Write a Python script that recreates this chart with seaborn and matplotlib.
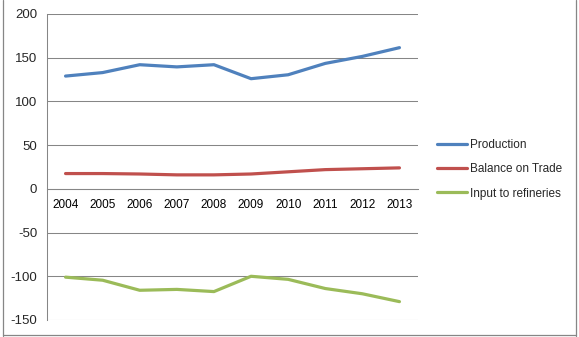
import matplotlib
matplotlib.use("Agg")
import matplotlib.pyplot as plt
import seaborn as sns
import pandas as pd
from matplotlib.ticker import FixedLocator, NullFormatter
from matplotlib.lines import Line2D

years = ["2004", "2005", "2006", "2007", "2008", "2009", "2010", "2011", "2012", "2013"]
production = [129, 133, 142, 139.5, 142, 126, 130.5, 143.5, 151.5, 161.5]
balance_on_trade = [17.5, 17.5, 17, 16, 16, 17, 19.5, 22, 23, 24]
input_to_refineries = [-101, -104.5, -116, -115, -117.5, -100, -103.5, -114, -120, -129]
series_names = ["Production", "Balance on Trade", "Input to refineries"]
colors = ["#4F81BD", "#C0504D", "#9BBB59"]

df = pd.concat([
    pd.DataFrame({"year": years, "value": production, "series": series_names[0]}),
    pd.DataFrame({"year": years, "value": balance_on_trade, "series": series_names[1]}),
    pd.DataFrame({"year": years, "value": input_to_refineries, "series": series_names[2]}),
])

sns.set_style("white")
plt.rcParams["font.family"] = ["Liberation Sans", "DejaVu Sans"]
plt.rcParams["axes.unicode_minus"] = False

fig = plt.figure(figsize=(5.79, 3.37), dpi=100)
ax = fig.add_axes([47 / 579, 1 - 320 / 337, (418 - 47) / 579, (320 - 14) / 337])

sns.lineplot(data=df, x="year", y="value", hue="series", hue_order=series_names,
             palette=colors, linewidth=2.3, ax=ax, sort=False)

grey = "#868686"
ax.set_ylim(-150, 200)
ax.set_yticks(range(-150, 201, 50))
ax.set_xlim(-0.5, 9.5)
ax.yaxis.grid(True, color=grey, linewidth=0.75)
ax.set_axisbelow(True)
ax.spines["top"].set_visible(False)
ax.spines["right"].set_visible(False)
ax.spines["left"].set_color(grey)
ax.spines["left"].set_linewidth(0.75)
ax.spines["bottom"].set_position(("data", 0))
ax.spines["bottom"].set_color(grey)
ax.spines["bottom"].set_linewidth(0.75)

ax.xaxis.set_major_locator(FixedLocator([i - 0.5 for i in range(11)]))
ax.xaxis.set_major_formatter(NullFormatter())
ax.set_xticks(range(10), minor=True)
ax.set_xticklabels(years, minor=True)
ax.tick_params(axis="x", which="major", direction="out", length=5, color=grey, width=0.75)
ax.tick_params(axis="x", which="minor", length=0, pad=7, labelsize=8.5, colors="black")
ax.tick_params(axis="y", direction="out", length=4, color=grey, width=0.75, labelsize=9.5, pad=3)
ax.set_xlabel("")
ax.set_ylabel("")

ax.legend(loc="upper left", bbox_to_anchor=(432 / 579, 1 - 134 / 337), bbox_transform=fig.transFigure,
          frameon=False, fontsize=8.5, handlelength=2.6, handletextpad=0.2, labelspacing=1.05,
          borderaxespad=0)

# outer chart border (left, right, bottom)
fig.add_artist(Line2D([3 / 579, 3 / 579], [1 / 337, 1], transform=fig.transFigure, color=grey, lw=0.9))
fig.add_artist(Line2D([576 / 579, 576 / 579], [1 / 337, 1], transform=fig.transFigure, color=grey, lw=0.9))
fig.add_artist(Line2D([3 / 579, 576 / 579], [2.5 / 337, 2.5 / 337], transform=fig.transFigure, color=grey, lw=0.9))

fig.savefig("out.png", dpi=100)
